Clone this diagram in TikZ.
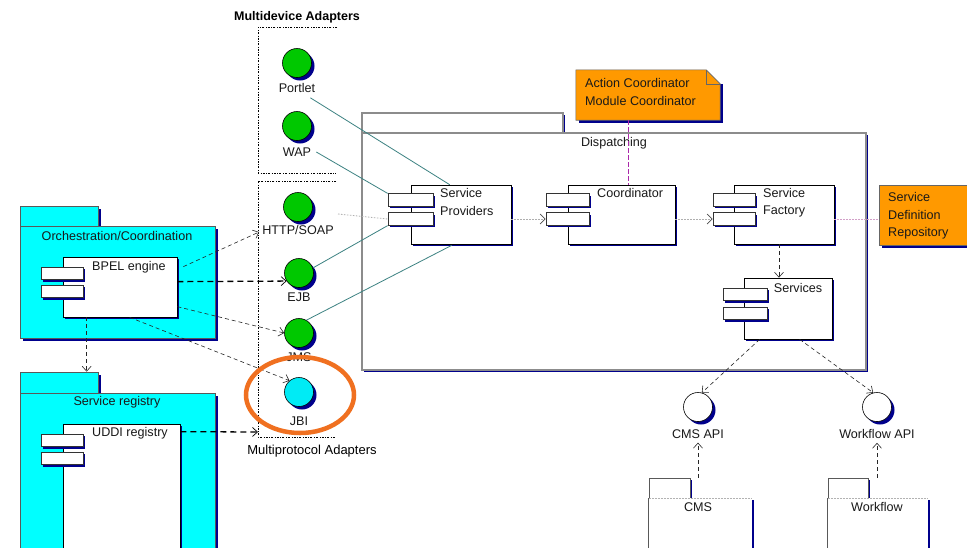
\documentclass[tikz,border=0pt]{standalone}
\usepackage{fontspec}
\setmainfont{Liberation Sans}
\usetikzlibrary{arrows.meta,shadows,calc,shapes.geometric}
\definecolor{pkgcyan}{RGB}{0,255,255}
\definecolor{ifgreen}{RGB}{0,200,0}
\definecolor{jbicyan}{RGB}{0,235,245}
\definecolor{shadenavy}{RGB}{0,0,140}
\definecolor{noteorange}{RGB}{255,153,0}
\definecolor{ringorange}{RGB}{240,112,32}
\definecolor{tealline}{RGB}{60,130,130}
\definecolor{framegray}{RGB}{140,140,140}
\definecolor{linkpurple}{RGB}{170,40,170}
\definecolor{dotgray}{RGB}{175,175,175}
\definecolor{dotpink}{RGB}{210,160,200}
\definecolor{textgray}{RGB}{25,25,25}

\begin{document}
\begin{tikzpicture}[x=1pt,y=-1pt,
  font=\fontsize{12.6}{14}\selectfont,
  lbl/.style={inner sep=0pt, text=textgray},
  navyshadow/.style={drop shadow={shadow xshift=3pt, shadow yshift=-3pt, fill=shadenavy, opacity=1}},
  thinshadow/.style={drop shadow={shadow xshift=2pt, shadow yshift=-2pt, fill=shadenavy, opacity=1}},
  pkg/.style={draw=black!65, line width=0.7pt, fill=pkgcyan, navyshadow, inner sep=0pt},
  frame/.style={draw=framegray, line width=1.6pt, fill=white, thinshadow, inner sep=0pt},
  plainpkg/.style={draw=black!65, line width=0.7pt, fill=white, thinshadow, inner sep=0pt},
  comp/.style={draw=black, line width=0.7pt, fill=white, thinshadow, inner sep=0pt},
  port/.style={draw=black!80, line width=0.7pt, fill=white, thinshadow, inner sep=0pt,
    minimum height=12.5pt},
  iface/.style={circle, draw=black, line width=0.6pt, minimum size=29pt, inner sep=0pt, navyshadow},
  note/.style={draw=none, inner sep=0pt},
  bracket/.style={black, line width=0.6pt, dash pattern=on 2pt off 1.5pt on 0.6pt off 1.5pt},
  wire/.style={tealline, line width=0.8pt},
  dep/.style={black!85, line width=0.6pt, dash pattern=on 4pt off 3pt,
    -{Straight Barb[length=5pt,width=9pt]}},
  depbold/.style={black, line width=1.3pt, dash pattern=on 6pt off 4pt,
    -{Straight Barb[length=5pt,width=9pt,line width=0.7pt]}},
  flow/.style={dotgray, line width=0.8pt, dash pattern=on 1.5pt off 1.5pt},
  flowarrow/.style={flow, -{Straight Barb[length=5pt,width=10pt,line width=0.7pt,black!70]}},
]
\useasboundingbox (0,0) rectangle (967,547);
\clip (0,0) rectangle (967,547);
\fill[white] (0,0) rectangle (967,547);

% ---------- adapter groups ----------
\node[lbl, font=\bfseries\fontsize{12.5}{14}\selectfont, text=black] (mdTitle) at (297,17) {Multidevice Adapters};
\draw[bracket] (337,27) -- (258,27) -- (258,173) -- (336,173);
\draw[bracket] (336,181) -- (258,181) -- (258,437) -- (335,437);
\node[lbl, font=\fontsize{13}{15}\selectfont, text=black] (mpTitle) at (312,451) {Multiprotocol Adapters};
\coordinate (mpLeft) at (258,432);

% ---------- Dispatching package ----------
\node[frame, minimum width=201pt, minimum height=20pt] (dispTab) at (462.5,123) {};
\node[frame, minimum width=504pt, minimum height=237pt] (dispBody) at (614,251.5) {};
\node[lbl] (dispL) at (614,143) {Dispatching};

% ---------- Orchestration package ----------
\node[pkg, minimum width=78pt, minimum height=20pt] (orchTab) at (59,216) {};
\node[pkg, minimum width=195pt, minimum height=112pt] (orchBody) at (117.5,282) {};
\node[lbl] (orchL) at (117,236) {Orchestration/Coordination};
\node[comp, minimum width=114pt, minimum height=60pt] (bpel) at (120,287) {};
\node[port, minimum width=42pt] (bpelA) at (62,273.5) {};
\node[port, minimum width=42pt] (bpelB) at (62,291.5) {};
\node[lbl, anchor=west] (bpelL) at (92,267) {BPEL engine};

% ---------- Service registry package ----------
\node[pkg, minimum width=78pt, minimum height=21pt] (regTab) at (59,382.5) {};
\node[pkg, minimum width=195pt, minimum height=167pt] (regBody) at (117.5,476.5) {};
\node[lbl] (regL) at (117,402) {Service registry};
\node[comp, minimum width=117pt, minimum height=136pt] (uddi) at (121.5,492) {};
\node[port, minimum width=42pt] (uddiA) at (62,440.5) {};
\node[port, minimum width=42pt] (uddiB) at (62,458.5) {};
\node[lbl, anchor=west] (uddiL) at (92,433) {UDDI registry};

% ---------- interfaces ----------
\node[iface, fill=ifgreen] (portlet) at (297,63) {};
\node[lbl] (portletL) at (297,88) {Portlet};
\node[iface, fill=ifgreen] (wap) at (297,126) {};
\node[lbl] (wapL) at (297,152) {WAP};
\node[iface, fill=ifgreen] (http) at (298,207) {};
\node[lbl] (httpL) at (298,230) {HTTP/SOAP};
\node[iface, fill=ifgreen] (ejb) at (299,273) {};
\node[lbl] (ejbL) at (299,297) {EJB};
\node[iface, fill=ifgreen] (jms) at (299,333) {};
\node[lbl] (jmsL) at (299,357) {JMS};
\node[iface, fill=jbicyan] (jbi) at (299,392) {};
\node[lbl] (jbiL) at (299,421) {JBI};

% ---------- note ----------
\node[note, minimum width=144pt, minimum height=50pt] (actNote) at (648,95) {};
\fill[shadenavy] ($(actNote.south west)+(3,3)$) rectangle ($(actNote.north east)+(3,14)$);
\filldraw[fill=noteorange, draw=black!60, line width=0.6pt]
  (actNote.south west) -- (actNote.north west) -- ($(actNote.north east)+(-14,0)$)
  -- ($(actNote.north east)+(0,14)$) -- (actNote.south east) -- cycle;
\draw[black!60, line width=0.6pt] ($(actNote.north east)+(-14,0)$) |- ($(actNote.north east)+(0,14)$);
\node[lbl, anchor=west] (noteL1) at (585,83) {Action Coordinator};
\node[lbl, anchor=west] (noteL2) at (585,101) {Module Coordinator};

% ---------- components inside Dispatching ----------
\node[comp, minimum width=100pt, minimum height=59pt] (sp) at (461,214.5) {};
\node[port, minimum width=45pt] (spA) at (410.5,200) {};
\node[port, minimum width=45pt] (spB) at (410.5,219) {};
\node[lbl, anchor=west] (spL1) at (440,193) {Service};
\node[lbl, anchor=west] (spL2) at (440,211) {Providers};

\node[comp, minimum width=107pt, minimum height=59pt] (coord) at (621.5,214.5) {};
\node[port, minimum width=43pt] (coA) at (567.5,200) {};
\node[port, minimum width=43pt] (coB) at (567.5,219) {};
\node[lbl, anchor=west] (coL) at (597,193) {Coordinator};

\node[comp, minimum width=100pt, minimum height=59pt] (sf) at (784,214.5) {};
\node[port, minimum width=42pt] (sfA) at (734,200) {};
\node[port, minimum width=42pt] (sfB) at (734,219) {};
\node[lbl, anchor=west] (sfL1) at (763,193) {Service};
\node[lbl, anchor=west] (sfL2) at (763,211) {Factory};

\node[comp, minimum width=88pt, minimum height=61pt] (services) at (788,308.5) {};
\node[port, minimum width=44pt] (svA) at (745,294.5) {};
\node[port, minimum width=44pt] (svB) at (745,313.5) {};
\node[lbl] (servicesL) at (798,288) {Services};

% ---------- Service Definition Repository ----------
\node[draw=black!60, line width=0.6pt, fill=noteorange, navyshadow, inner sep=0pt,
  minimum width=96pt, minimum height=60pt] (sdr) at (927,215) {};
\node[lbl, anchor=west] (sdrL1) at (888,197) {Service};
\node[lbl, anchor=west] (sdrL2) at (888,215) {Definition};
\node[lbl, anchor=west] (sdrL3) at (888,233) {Repository};

% ---------- external APIs and packages ----------
\node[iface, fill=white] (cmsapi) at (698,407) {};
\node[lbl] (cmsapiL) at (698,434) {CMS API};
\node[iface, fill=white] (wfapi) at (877,407) {};
\node[lbl] (wfapiL) at (877,434) {Workflow API};

\node[plainpkg, minimum width=41pt, minimum height=20pt] (cmsTab) at (669.5,488) {};
\node[draw=none, fill=white, thinshadow, inner sep=0pt, minimum width=103pt, minimum height=62pt] (cmsBody) at (700.5,529) {};
\draw[black!65, line width=0.7pt] (cmsBody.south west) -- (cmsBody.north west);
\draw[black!30, line width=0.5pt, dash pattern=on 2pt off 1pt] (cmsBody.north west) -- (cmsBody.north east);
\node[lbl] (cmsL) at (698,507) {CMS};

\node[plainpkg, minimum width=40pt, minimum height=20pt] (wfTab) at (848,488) {};
\node[draw=none, fill=white, thinshadow, inner sep=0pt, minimum width=100pt, minimum height=62pt] (wfBody) at (878,529) {};
\draw[black!65, line width=0.7pt] (wfBody.south west) -- (wfBody.north west);
\draw[black!30, line width=0.5pt, dash pattern=on 2pt off 1pt] (wfBody.north west) -- (wfBody.north east);
\node[lbl] (wfL) at (877,507) {Workflow};

% ---------- wires from adapters to Service Providers ----------
\draw[wire] ($(portletL.south east)+(-5,5)$) -- ($(sp.north west)+(39,0)$);
\draw[wire] ($(wapL.east)+(5,0)$) -- (spA.north west);
\draw[wire] (ejb.20) -- (spB.south west);
\draw[wire] (jms.60) -- ($(sp.south west)+(41,1)$);

% ---------- message flow ----------
\coordinate (soapTap) at (338,214);
\draw[flow] (soapTap) -- (spB.west);
\draw[flowarrow] (sp.east |- spB.west) -- (coB.west);
\draw[flowarrow] (coord.east |- coB.west) -- (sfB.west);
\draw[flow, dotpink] (sf.east |- sfB.west) -- (sdr.west |- sfB.west);

% ---------- note link ----------
\draw[linkpurple, line width=0.7pt, dash pattern=on 5pt off 2pt]
  ($(actNote.south)+(-20,0)$) -- ($(coord.north)+(6.5,0)$);

% ---------- dependencies ----------
\draw[dep] ($(bpel.north east)+(6,10)$) -- ($(httpL.west)+(-3,2)$);
\draw[depbold] ($(bpel.north east)+(0,25)$) -- (ejb.213);
\draw[dep] ($(bpel.north east)+(0,50)$) -- (jms.west);
\draw[dep] ($(bpel.south west)+(67,0)$) -- (jbi.130);
\draw[dep] ($(bpel.south west)+(24,0)$) -- ($(regTab.north west)+(67,0)$);
\draw[depbold] ($(uddi.north east)+(0,8)$) -- (mpLeft);

\draw[dep] ($(sf.south)+(-5,0)$) -- ($(services.north)+(-9,0)$);
\draw[dep] ($(services.south west)+(16,0)$) -- (cmsapi.75);
\draw[dep] ($(services.south west)+(56,0)$) -- (wfapi.105);
\draw[dep] ($(cmsBody.north)+(-2.5,-20)$) -- ($(cmsapiL.south)+(0,4)$);
\draw[dep] ($(wfBody.north)+(-1,-20)$) -- ($(wfapiL.south)+(0,4)$);

% ---------- highlight ring ----------
\node[ellipse, draw=ringorange, line width=4.5pt, minimum width=108pt, minimum height=76pt] (ring) at (300,395) {};
\end{tikzpicture}
\end{document}
